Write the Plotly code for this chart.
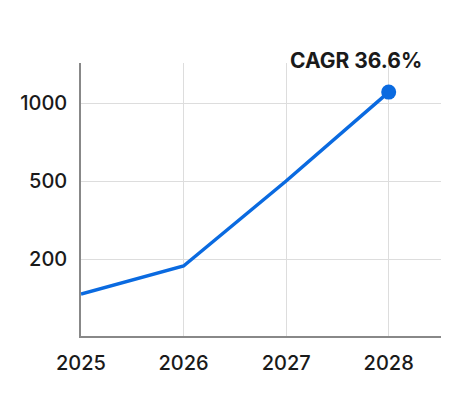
import plotly.graph_objects as go

years = [2025, 2026, 2027, 2028]
# positions on the (equally spaced) value scale: 1 -> 200, 2 -> 500, 3 -> 1000
values_scaled = [0.55, 0.91, 2.0, 3.14]
tick_positions = [1, 2, 3]
tick_labels = ["200", "500", "1000"]
cagr_label = "CAGR 36.6%"

blue = "#0a6ae0"

fig = go.Figure()
fig.add_trace(go.Scatter(
    x=years, y=values_scaled, mode="lines",
    line=dict(color=blue, width=3.5),
    hoverinfo="skip", cliponaxis=False,
))
fig.add_trace(go.Scatter(
    x=[years[-1]], y=[values_scaled[-1]], mode="markers",
    marker=dict(color=blue, size=15),
    hoverinfo="skip", cliponaxis=False,
))
fig.add_annotation(
    x=years[-1], y=values_scaled[-1], text="<b>" + cagr_label + "</b>",
    showarrow=False, xanchor="center", yanchor="bottom", xshift=-33, yshift=17,
    font=dict(family="Inter, sans-serif", size=21, color="#1a1a1a"),
)
fig.update_layout(
    width=462, height=390,
    margin=dict(l=67, r=29, t=55, b=62),
    paper_bgcolor="white", plot_bgcolor="white",
    showlegend=False,
    font=dict(family="Inter, sans-serif", size=20, color="#1a1a1a"),
    xaxis=dict(
        range=[2025, 2028.51], tickvals=years, ticktext=[str(y) for y in years],
        showgrid=True, gridcolor="#dddddd", gridwidth=1,
        showline=True, linecolor="#888888", linewidth=2,
        zeroline=False, ticks="", ticklen=0, tickfont=dict(size=20, weight=500),
        ticklabelstandoff=8,
    ),
    yaxis=dict(
        range=[0.013, 3.513], tickvals=tick_positions, ticktext=tick_labels,
        showgrid=True, gridcolor="#dddddd", gridwidth=1,
        showline=True, linecolor="#888888", linewidth=1.5,
        zeroline=False, ticks="", tickfont=dict(size=20, weight=500),
        ticklabelstandoff=8,
    ),
)
fig.write_html("out.html")
